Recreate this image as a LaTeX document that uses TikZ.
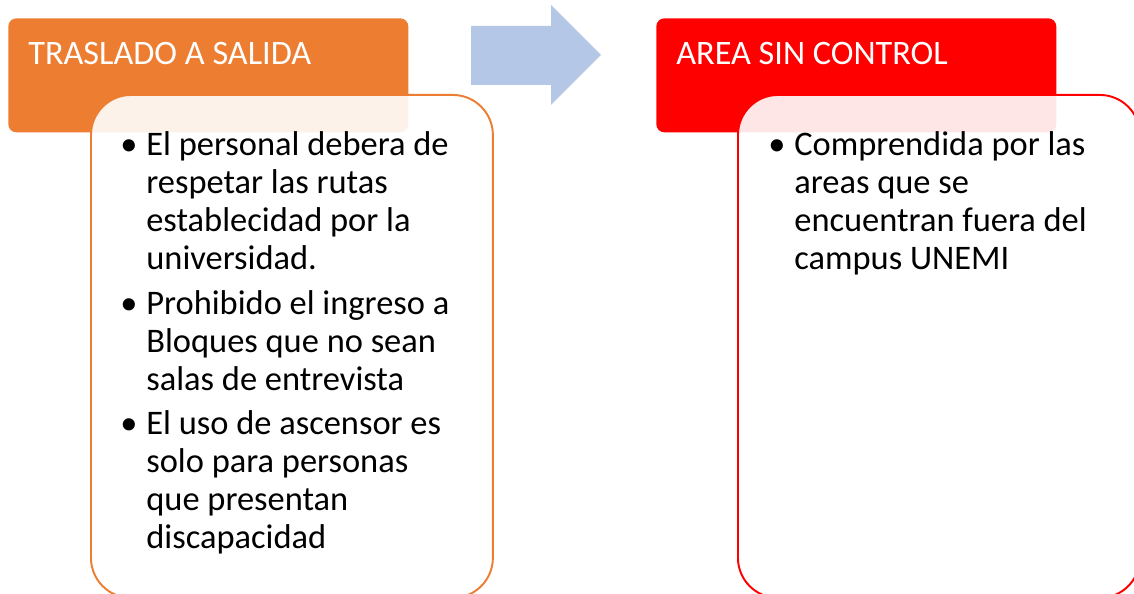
\documentclass[tikz,border=0pt]{standalone}
\usepackage{fontspec}
\setmainfont{Carlito}
\definecolor{naranja}{HTML}{ED7D31}
\definecolor{rojo}{HTML}{FF0000}
\definecolor{celeste}{HTML}{B4C7E7}
\newcommand{\punto}{\makebox[0.44cm][l]{\hspace{-0.08cm}\textbullet}}

\begin{document}
\begin{tikzpicture}[x=0.02cm,y=-0.02cm,
	cabecera/.style={fill=#1,rounded corners=0.16cm,anchor=north west,minimum width=8cm,minimum height=2.28cm,inner sep=0pt},
	cuerpo/.style={draw=#1,line width=1.1pt,fill=white,fill opacity=0.9,rounded corners=0.8cm,anchor=north west,minimum width=8.04cm,minimum height=10.06cm,inner sep=0pt},
	titulo/.style={text=white,font=\fontsize{19.5}{23}\selectfont,anchor=base west,inner sep=0pt},
	lista/.style={font=\fontsize{19.6}{21.6}\selectfont,anchor=base west,inner sep=0pt}]
	\useasboundingbox (0,0) rectangle (1134,594);
	\foreach \xa/\xb/\col/\nom in {8/90/naranja/tras,656/737/rojo/area}
		{
		\node[cabecera=\col] (\nom-cab) at (\xa,18) {};
		\node[cuerpo=\col] (\nom-cue) at (\xb,94) {};
		}
	\fill[celeste] (471,26) -- (551,26) -- (551,5) -- (601,55) -- (551,105) -- (551,85) -- (471,85) -- cycle;

	\node[titulo] (tras-tit) at (28,65) {TRASLADO A SALIDA};
	\node[titulo] (area-tit) at (676,65) {AREA SIN CONTROL};

	\node[lista] (tras-lis) at (124,156) {\begin{tabular}[t]{@{}l@{}l@{}}
		\punto & El personal debera de\\
		& respetar las rutas\\
		& establecidad por la\\
		& universidad.\\[3.6pt]
		\punto & Prohibido el ingreso a\\
		& Bloques que no sean\\
		& salas de entrevista\\[3.6pt]
		\punto & El uso de ascensor es\\
		& solo para personas\\
		& que presentan\\
		& discapacidad
		\end{tabular}};
	\node[lista] (area-lis) at (772,156) {\begin{tabular}[t]{@{}l@{}l@{}}
		\punto & Comprendida por las\\
		& areas que se\\
		& encuentran fuera del\\
		& campus UNEMI
		\end{tabular}};
\end{tikzpicture}
\end{document}
